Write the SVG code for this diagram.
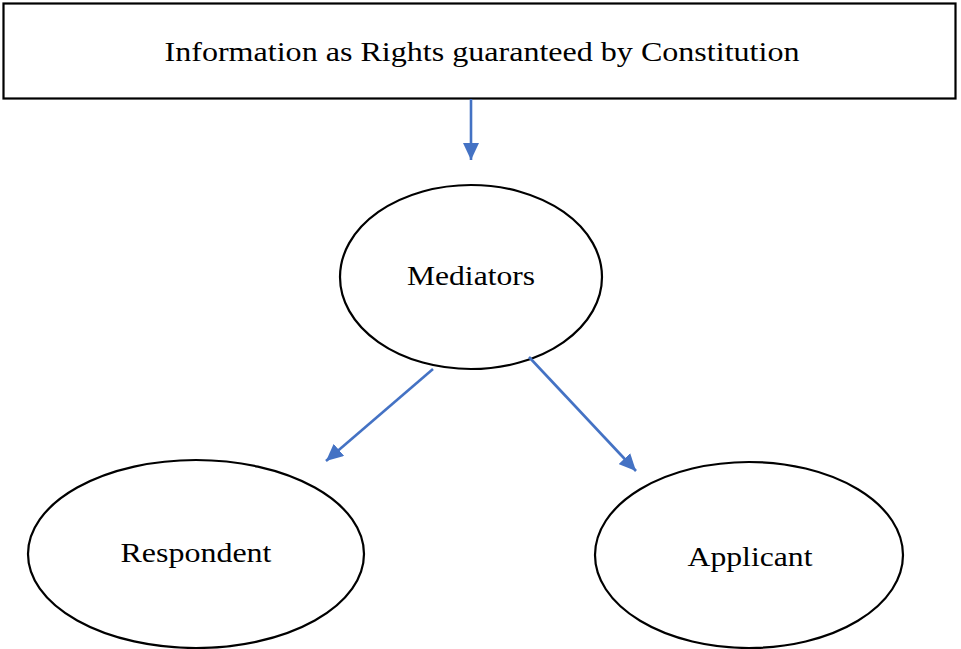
<svg xmlns="http://www.w3.org/2000/svg" width="961" height="649" viewBox="0 0 961 649">
<style>
.node{fill:#fff;stroke:#000;stroke-width:2.2}
.lbl{font-family:"Liberation Serif","Times New Roman",serif;font-size:28px;fill:#000;text-anchor:middle}
.conn{stroke:#4472C4;stroke-width:2.6;fill:none;marker-end:url(#ah)}
</style>
<defs>
<marker id="ah" markerUnits="userSpaceOnUse" markerWidth="18" markerHeight="16" refX="17" refY="8" orient="auto">
<path d="M0,0 L17,8 L0,16 Z" fill="#4472C4"/>
</marker>
</defs>
<rect width="961" height="649" fill="#fff"/>
<g id="title">
<rect class="node" x="3.5" y="3.5" width="952" height="95"/>
<text class="lbl" x="482" y="61" textLength="635" lengthAdjust="spacingAndGlyphs">Information as Rights guaranteed by Constitution</text>
</g>
<g id="mediators">
<ellipse class="node" cx="471" cy="277" rx="131" ry="92"/>
<text class="lbl" x="471" y="285" textLength="128" lengthAdjust="spacingAndGlyphs">Mediators</text>
</g>
<g id="respondent">
<ellipse class="node" cx="196" cy="554" rx="168" ry="94"/>
<text class="lbl" x="196" y="562" textLength="151" lengthAdjust="spacingAndGlyphs">Respondent</text>
</g>
<g id="applicant">
<ellipse class="node" cx="749" cy="555" rx="154" ry="93"/>
<text class="lbl" x="750" y="566" textLength="125" lengthAdjust="spacingAndGlyphs">Applicant</text>
</g>
<g id="connectors">
<line class="conn" x1="471" y1="99" x2="471" y2="160"/>
<line class="conn" x1="433" y1="369" x2="326" y2="461"/>
<line class="conn" x1="529" y1="357" x2="636" y2="471"/>
</g>
</svg>
